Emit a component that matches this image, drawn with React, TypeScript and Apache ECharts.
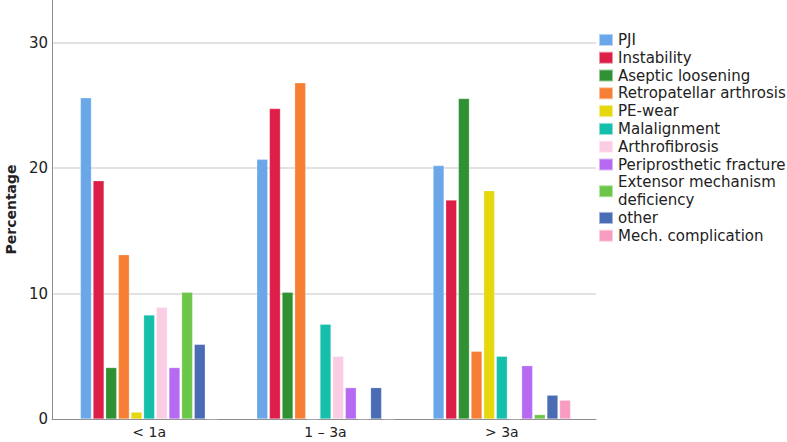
import React, { useEffect, useRef } from "react";
import * as echarts from "echarts";

const categories = ["< 1a", "1 – 3a", "> 3a"];

const seriesNames = [
  "PJI",
  "Instability",
  "Aseptic loosening",
  "Retropatellar arthrosis",
  "PE-wear",
  "Malalignment",
  "Arthrofibrosis",
  "Periprosthetic fracture",
  "Extensor mechanism\ndeficiency",
  "other",
  "Mech. complication",
];

const seriesColors = [
  "#69a7e8",
  "#dd1f48",
  "#2f9132",
  "#f77f35",
  "#e6d80f",
  "#15bfab",
  "#fbcde5",
  "#b66af2",
  "#6cc64a",
  "#4a6cb5",
  "#f89cc2",
];

// values per series: [< 1a, 1 – 3a, > 3a]
const pji = [25.6, 20.7, 20.2];
const instability = [19.0, 24.75, 17.45];
const asepticLoosening = [4.1, 10.1, 25.55];
const retropatellar = [13.1, 26.8, 5.4];
const peWear = [0.55, 0, 18.2];
const malalignment = [8.3, 7.55, 5.0];
const arthrofibrosis = [8.9, 5.0, 0];
const periprostheticFracture = [4.1, 2.5, 4.25];
const extensorMechanism = [10.1, 0, 0.35];
const other = [5.95, 2.5, 1.9];
const mechComplication = [0, 0, 1.5];

const seriesValues = [
  pji,
  instability,
  asepticLoosening,
  retropatellar,
  peWear,
  malalignment,
  arthrofibrosis,
  periprostheticFracture,
  extensorMechanism,
  other,
  mechComplication,
];

const yTicksInterval = 10;
const yMax = 33.4;

const FONT = "DejaVu Sans";

export default function App() {
  const ref = useRef<HTMLDivElement>(null);

  useEffect(() => {
    if (!ref.current) return;
    const chart = echarts.init(ref.current, undefined, { renderer: "svg" });
    const option: any = {
      animation: false,
      backgroundColor: "#ffffff",
      textStyle: { fontFamily: FONT },
      grid: [
        { left: 52, right: 191, top: 0, bottom: 23, outerBoundsMode: "none", containLabel: false },
        { left: 61, right: 197, top: 0, bottom: 23, outerBoundsMode: "none", containLabel: false },
      ],
      legend: {
        orient: "vertical",
        left: 598,
        top: 31,
        padding: 0,
        itemGap: 0,
        itemWidth: 14,
        itemHeight: 12,
        icon: "rect",
        data: seriesNames,
        textStyle: {
          fontFamily: FONT,
          fontSize: 15,
          lineHeight: 17.8,
          color: "#222222",
        },
      },
      xAxis: [
        {
          gridIndex: 0,
          type: "value",
          min: 0,
          max: 1,
          axisLine: { show: true, lineStyle: { color: "#8c8c8c", width: 1 } },
          axisTick: { show: false },
          axisLabel: { show: false },
          splitLine: { show: false },
        },
        {
          gridIndex: 1,
          type: "category",
          data: categories,
          axisLine: { show: false },
          axisTick: { show: false },
          axisLabel: {
            fontFamily: FONT,
            fontSize: 14,
            color: "#222222",
            margin: 6,
          },
        },
      ],
      yAxis: [
        {
          gridIndex: 0,
          type: "value",
          min: 0,
          max: yMax,
          interval: yTicksInterval,
          name: "Percentage",
          nameLocation: "middle",
          nameRotate: 90,
          nameGap: 31,
          nameTextStyle: {
            fontFamily: FONT,
            fontSize: 14,
            fontWeight: "bold",
            color: "#222222",
          },
          axisLine: { show: true, lineStyle: { color: "#8c8c8c", width: 1 } },
          axisTick: { show: false },
          axisLabel: {
            fontFamily: FONT,
            fontSize: 15,
            color: "#222222",
            margin: 4,
            showMaxLabel: false,
            formatter: (v: number) => (v % yTicksInterval === 0 ? String(v) : ""),
          },
          splitLine: {
            show: true,
            showMinLine: false,
            showMaxLine: false,
            lineStyle: { color: "#d9d9d9", width: 1.5 },
          },
        },
        {
          gridIndex: 1,
          type: "value",
          min: 0,
          max: yMax,
          show: false,
          splitLine: { show: false },
        },
      ],
      series: seriesNames.map((name, i) => ({
        name,
        type: "bar",
        xAxisIndex: 1,
        yAxisIndex: 1,
        barWidth: 11,
        barGap: "15%",
        data: seriesValues[i],
        itemStyle: {
          color: seriesColors[i],
          borderColor: "rgba(255,255,255,0.5)",
          borderWidth: 0.5,
        },
      })),
    };
    chart.setOption(option);
    return () => chart.dispose();
  }, []);

  return (
    <div
      ref={ref}
      style={{ position: "absolute", left: 0, top: 0, width: 787, height: 442 }}
    />
  );
}
